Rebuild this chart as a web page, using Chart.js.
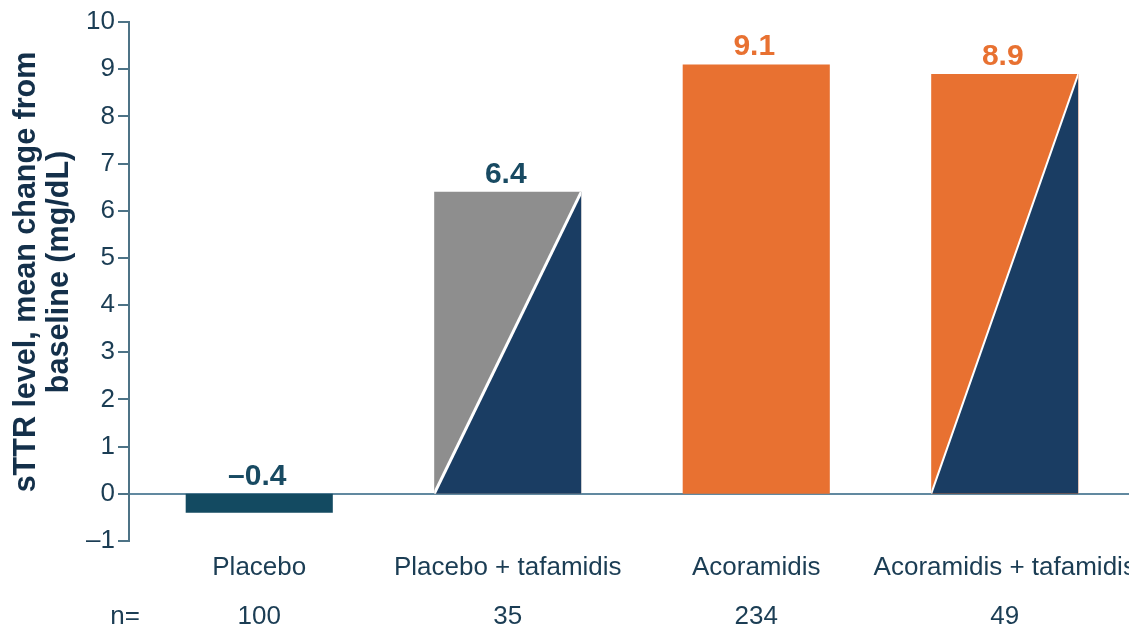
<!DOCTYPE html>
<html>
<head>
<meta charset="utf-8">
<script src="https://cdn.jsdelivr.net/npm/chart.js@4.4.1/dist/chart.umd.min.js"></script>
<style>
html, body { margin: 0; padding: 0; background: #fff; }
</style>
</head>
<body>
<canvas id="myChart" width="1129" height="629"></canvas>
<script>
// data
const gCategories = ['Placebo', 'Placebo + tafamidis', 'Acoramidis', 'Acoramidis + tafamidis'];
const gValues = [-0.4, 6.4, 9.1, 8.9];
const gCounts = ['100', '35', '234', '49'];
const gValueLabels = ['\u20130.4', '6.4', '9.1', '8.9'];
const gYTicks = [-1, 0, 1, 2, 3, 4, 5, 6, 7, 8, 9, 10];
const gTitleLines = ['sTTR level, mean change from', 'baseline (mg/dL)'];

// styling
const gFont = "Arial, 'Liberation Sans', sans-serif";
const gBarColors = ['#134a61', '#8e8e8e', '#e87131', '#e87131'];
const gSplitWidth = [0, 3, 0, 2];      // white diagonal; 0 = plain bar
const gSplitColor = '#1a3d63';
const gValueColors = ['#184a62', '#184a62', '#e87131', '#e87131'];
const gAxisColor = '#4d7386';
const gZeroColor = '#6189a0';
const gTextColor = '#1b3d54';

function fmtTick(v) {
    return v < 0 ? '\u2013' + Math.abs(v) : String(v);
}

const axisPlugin = {
    id: 'axisPlugin',
    beforeDatasetsDraw(chart) {
        const ctx = chart.ctx;
        const yScale = chart.scales.y;
        const area = chart.chartArea;
        const x0 = area.left - 6;
        ctx.save();
        ctx.strokeStyle = gZeroColor;
        ctx.lineWidth = 2;
        const py0 = Math.round(yScale.getPixelForValue(0));
        ctx.beginPath();
        ctx.moveTo(x0, py0);
        ctx.lineTo(area.right, py0);
        ctx.stroke();

        ctx.strokeStyle = gAxisColor;
        ctx.beginPath();
        ctx.moveTo(x0, yScale.getPixelForValue(gYTicks[0]) + 1);
        ctx.lineTo(x0, yScale.getPixelForValue(gYTicks[gYTicks.length - 1]) - 1);
        gYTicks.forEach((t) => {
            const py = Math.round(yScale.getPixelForValue(t));
            ctx.moveTo(x0 - 11, py);
            ctx.lineTo(x0, py);
        });
        ctx.stroke();
        ctx.restore();
    },
    afterDatasetsDraw(chart) {
        const ctx = chart.ctx;
        const meta = chart.getDatasetMeta(0);
        ctx.save();
        meta.data.forEach((el, i) => {
            const left = el.x - el.width / 2;
            const right = el.x + el.width / 2;
            const top = Math.min(el.y, el.base);
            const bottom = Math.max(el.y, el.base);
            if (gSplitWidth[i] > 0) {
                ctx.save();
                ctx.beginPath();
                ctx.rect(left, top, right - left, bottom - top);
                ctx.clip();
                ctx.fillStyle = gSplitColor;
                ctx.beginPath();
                ctx.moveTo(left, el.base);
                ctx.lineTo(right, el.base);
                ctx.lineTo(right, el.y);
                ctx.closePath();
                ctx.fill();
                ctx.strokeStyle = '#ffffff';
                ctx.lineWidth = gSplitWidth[i];
                ctx.beginPath();
                ctx.moveTo(left, el.base);
                ctx.lineTo(right, el.y);
                ctx.stroke();
                ctx.restore();
            }
            ctx.fillStyle = gValueColors[i];
            ctx.font = 'bold 30px ' + gFont;
            ctx.textAlign = 'center';
            ctx.textBaseline = 'alphabetic';
            ctx.fillText(gValueLabels[i], el.x - 2, top - 9);
        });

        // y axis title, two rotated lines
        ctx.fillStyle = '#14304a';
        ctx.font = 'bold 30.5px ' + gFont;
        ctx.textAlign = 'center';
        ctx.translate(35, 272);
        ctx.rotate(-Math.PI / 2);
        gTitleLines.forEach((line, i) => ctx.fillText(line, 0, i * 33));
        ctx.restore();

        // row caption for the counts
        const xScale = chart.scales.x;
        ctx.save();
        ctx.fillStyle = gTextColor;
        ctx.font = '26px ' + gFont;
        ctx.textAlign = 'center';
        ctx.textBaseline = 'middle';
        ctx.fillText('n=', 125, xScale.top + 2 + 24.7 + 49.4);
        ctx.restore();
    }
};

const gConfig = {
    type: 'bar',
    data: {
        labels: gCategories.map((c, i) => [c, gCounts[i]]),
        datasets: [{
            data: gValues,
            backgroundColor: gBarColors,
            borderWidth: 0,
            barPercentage: 0.592,
            categoryPercentage: 1
        }]
    },
    options: {
        responsive: false,
        animation: false,
        devicePixelRatio: 1,
        layout: { padding: { top: 22, right: 0, bottom: 0, left: 0 } },
        plugins: {
            legend: { display: false },
            tooltip: { enabled: false }
        },
        scales: {
            x: {
                grid: { display: false, drawTicks: false },
                border: { display: false },
                ticks: {
                    color: gTextColor,
                    font: { family: gFont, size: 26, lineHeight: 1.9 },
                    padding: 2,
                    autoSkip: false,
                    maxRotation: 0,
                    minRotation: 0
                },
                afterFit(scale) {
                    scale.height = 88;
                    scale.paddingLeft = 0;
                    scale.paddingRight = 0;
                }
            },
            y: {
                min: -1,
                max: 10,
                grid: { display: false, drawTicks: false },
                border: { display: false },
                ticks: {
                    stepSize: 1,
                    color: gTextColor,
                    font: { family: gFont, size: 26 },
                    padding: 20,
                    callback: (v) => fmtTick(v)
                },
                afterFit(scale) {
                    scale.width = 135;
                    scale.paddingTop = 0;
                    scale.paddingBottom = 0;
                }
            }
        }
    },
    plugins: [axisPlugin]
};

const gChart = new Chart(document.getElementById('myChart'), gConfig);
</script>
</body>
</html>
